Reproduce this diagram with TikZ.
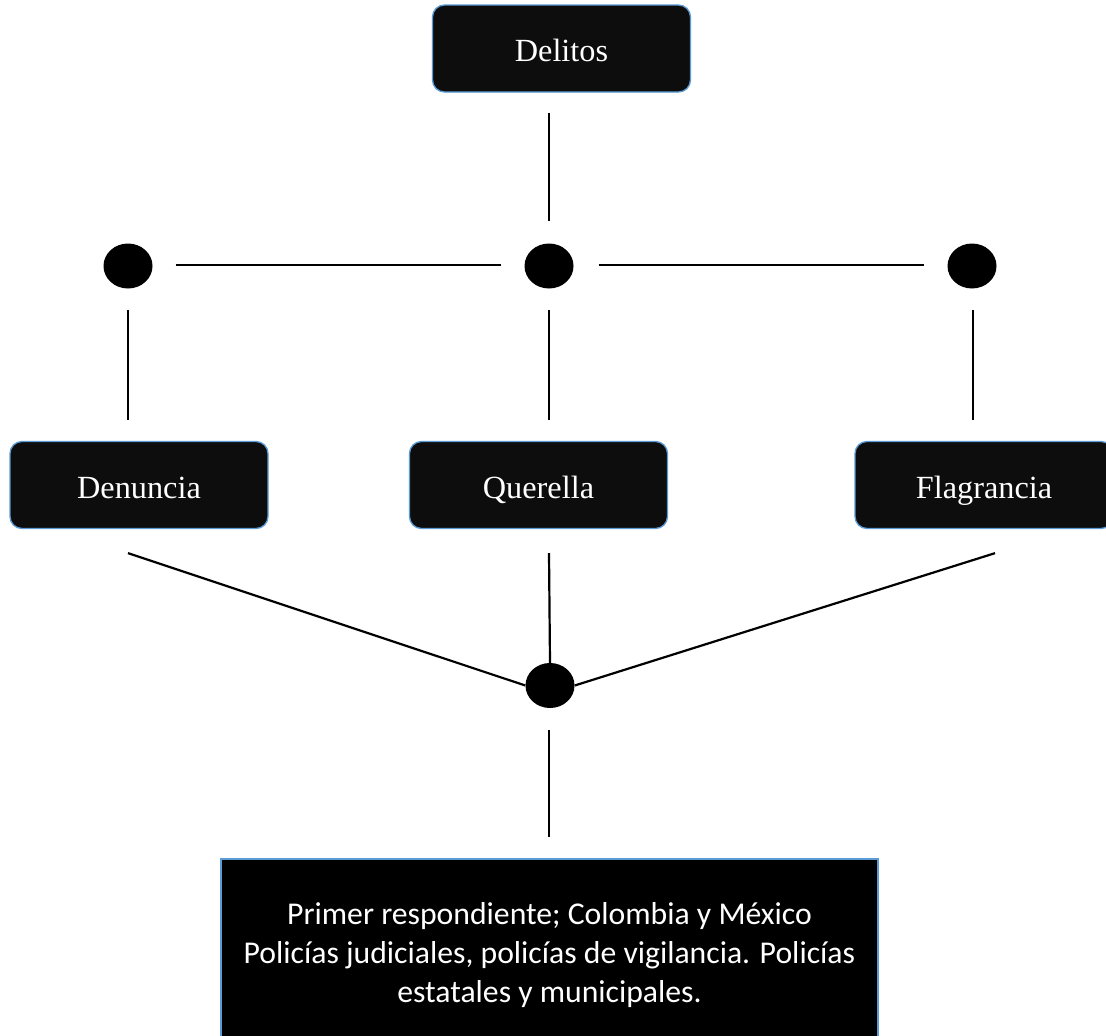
\documentclass[tikz,border=0pt]{standalone}
\usepackage{fontspec}
\setmainfont{Liberation Serif}
\newfontfamily\carlito{Carlito}
\usetikzlibrary{shapes.geometric}
\definecolor{boxfill}{HTML}{0D0D0D}
\definecolor{boxline}{HTML}{5B9BD5}
\begin{document}
\begin{tikzpicture}[x=1pt,y=-1pt,
  topbox/.style={draw=boxline,line width=1.3pt,fill=boxfill,rounded corners=12pt,
    minimum width=258pt,minimum height=87pt,inner sep=0pt,text=white,
    text height=26.5pt,text depth=0pt,
    font=\fontsize{32.3}{36}\selectfont},
  bigbox/.style={draw=boxline,line width=1.3pt,fill=black,
    minimum width=657pt,minimum height=192pt,inner sep=0pt,text=white,align=center,
    font=\carlito\fontsize{31.7}{38.7}\selectfont},
  dot/.style={ellipse,fill=black,minimum width=49pt,minimum height=45pt,inner sep=0pt},
  conn/.style={line width=2.2pt,black}]
\useasboundingbox (0,0) rectangle (1106,1036);
\fill[white] (0,0) rectangle (1106,1036);
\node[topbox] (del) at (561.5,48.5) {Delitos};
\node[dot] (dl) at (128,266) {};
\node[dot] (dm) at (549,266) {};
\node[dot] (dr) at (972,266) {};
\node[topbox] (den) at (139,485) {Denuncia};
\node[topbox] (que) at (538.5,485) {Querella};
\node[topbox] (fla) at (984,485) {Flagrancia};
\node[dot] (db) at (550,685.5) {};
\node[bigbox] (res) at (549.5,955) {Primer respondiente; Colombia y México\\Policías judiciales, policías de vigilancia. Policías\\estatales y municipales.};
% connectors
\draw[conn] ([xshift=-12.5pt,yshift=-20pt]del.south) -- ([yshift=22pt]dm.north);
\draw[conn] ([xshift=23pt,yshift=1pt]dl.east) -- ([xshift=-23pt,yshift=1pt]dm.west);
\draw[conn] ([xshift=25pt,yshift=1pt]dm.east) -- ([xshift=-23pt,yshift=1pt]dr.west);
\draw[conn] ([yshift=-21pt]dl.south) -- ([xshift=-11pt,yshift=21pt]den.north);
\draw[conn] ([yshift=-21pt]dm.south) -- ([xshift=10.5pt,yshift=21pt]que.north);
\draw[conn] ([xshift=1pt,yshift=-21pt]dr.south) -- ([xshift=-11pt,yshift=21pt]fla.north);
\draw[conn] ([xshift=-11pt,yshift=-24pt]den.south) -- (db.west);
\draw[conn] ([xshift=10.5pt,yshift=-24pt]que.south) -- (db.north);
\draw[conn] ([xshift=11pt,yshift=-24pt]fla.south) -- (db.east);
\draw[conn] ([xshift=-1pt,yshift=-22pt]db.south) -- ([xshift=-0.5pt,yshift=21pt]res.north);
\end{tikzpicture}
\end{document}
